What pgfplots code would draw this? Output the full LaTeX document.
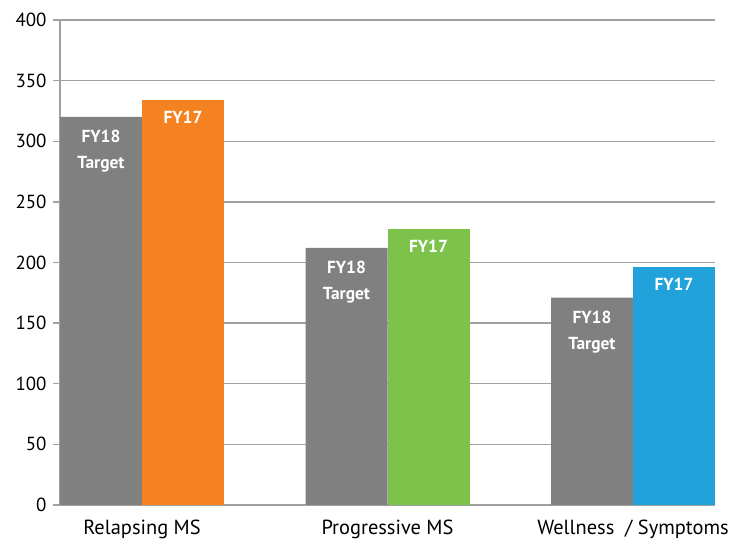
\documentclass[border=0pt]{standalone}
\usepackage{fontspec}
\setmainfont{PT Sans}
\usepackage{pgfplots}
\pgfplotsset{compat=1.18}
\definecolor{barGray}{HTML}{808080}
\definecolor{barOrange}{HTML}{F58220}
\definecolor{barGreen}{HTML}{7DC24B}
\definecolor{barBlue}{HTML}{21A2DB}
\definecolor{gridGray}{HTML}{A0A0A0}
\begin{document}
\begin{tikzpicture}[x=1bp,y=1bp]
\path[use as bounding box] (0,0) rectangle (729,545);
\begin{axis}[
  at={(60bp,40bp)}, anchor=south west,
  scale only axis, width=655bp, height=485bp,
  xmin=-0.334, xmax=2.334, ymin=0, ymax=400,
  ytick={0,50,...,400},
  xtick={0,1,2},
  xticklabels={Relapsing MS, Progressive MS, Wellness~ / Symptoms},
  axis x line*=bottom, axis y line*=left,
  axis line style={gridGray, line width=1.3bp, -},
  ymajorgrids, major grid style={gridGray, line width=1.3bp},
  tick align=outside,
  y tick style={gridGray, line width=1.3bp}, major tick length=7bp,
  x tick style={draw=none},
  tick label style={font=\fontsize{19}{22}\selectfont, text=black},
  yticklabel style={xshift=-3bp},
  xticklabel style={font=\fontsize{20.5}{24}\selectfont, inner sep=0pt, yshift=-8bp},
  /pgf/number format/assume math mode=true,
  ybar, bar width=0.334,
  nodes near coords style={anchor=north, align=center, text=white, inner sep=0pt, yshift=-11bp,
    font=\bfseries\fontsize{17.5}{26}\selectfont},
  clip=false,
]
\addplot[fill=barGray, draw=none, bar shift=-0.167,
  nodes near coords={FY18\\Target}, nodes near coords style={yshift=-2bp}] coordinates {(0,320) (1,212) (2,171)};
\addplot[fill=barOrange, draw=none, bar shift=0.167,
  nodes near coords={FY17}] coordinates {(0,334)};
\addplot[fill=barGreen, draw=none, bar shift=0.167,
  nodes near coords={FY17}] coordinates {(1,228)};
\addplot[fill=barBlue, draw=none, bar shift=0.167,
  nodes near coords={FY17}] coordinates {(2,196)};
\end{axis}
\end{tikzpicture}
\end{document}
